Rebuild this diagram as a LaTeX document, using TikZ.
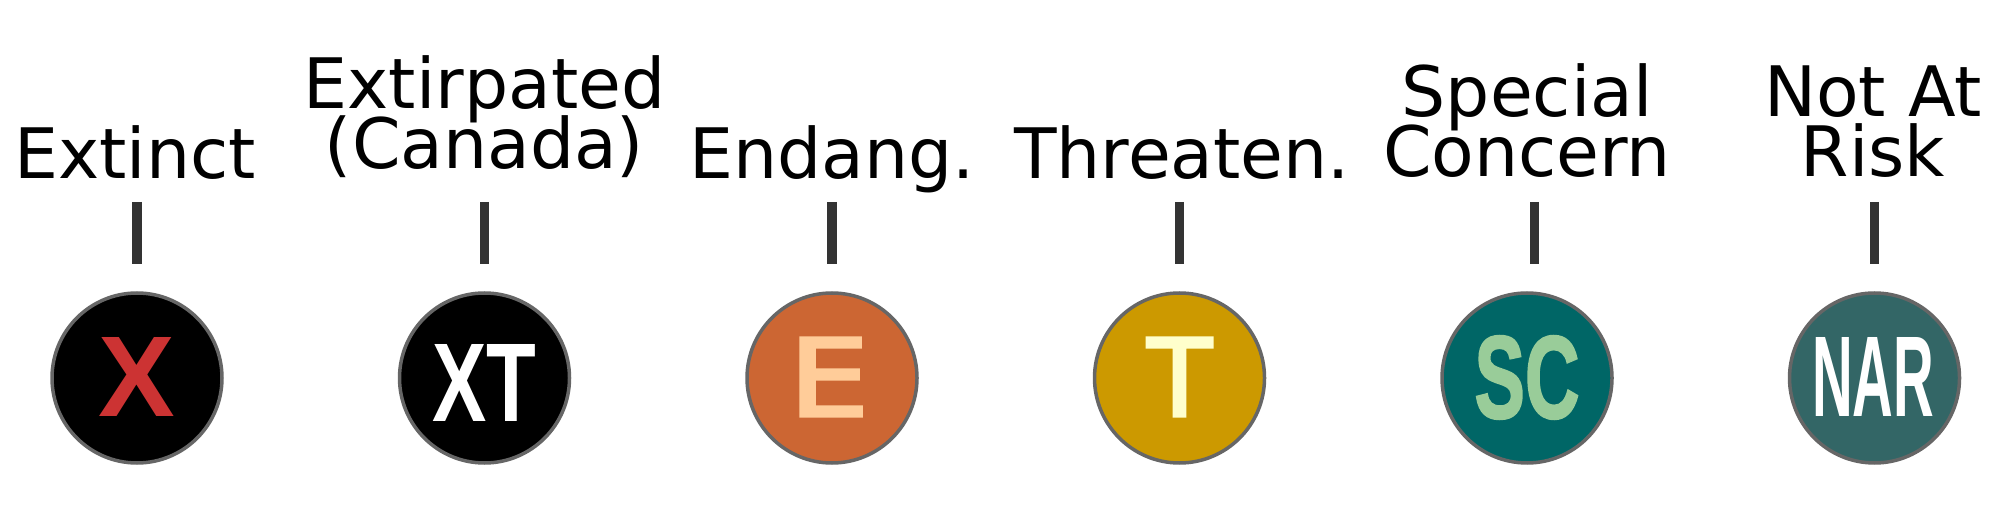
\documentclass[tikz,border=0pt]{standalone}
\usepackage{fontspec}
\usepackage{graphicx}
\setmainfont{DejaVu Sans}
\newfontfamily\libfont{Liberation Sans}
\newfontfamily\fatfont[FakeBold=2]{Liberation Sans Bold}
\newfontfamily\midfont[FakeBold=3.2]{DejaVu Sans}
\lineskiplimit=-100pt
\definecolor{ringc}{HTML}{666666}
\definecolor{tickc}{HTML}{333333}
\definecolor{cX}{HTML}{CC3333}
\definecolor{cE}{HTML}{CC6633}
\definecolor{cEt}{HTML}{FFCC99}
\definecolor{cT}{HTML}{CC9900}
\definecolor{cTt}{HTML}{FFFFCC}
\definecolor{cS}{HTML}{006666}
\definecolor{cSt}{HTML}{99CC99}
\definecolor{cN}{HTML}{336666}
\tikzset{
  x=0.5pt,y=-0.5pt,
  badge/.style={circle,draw=ringc,line width=1.75pt,minimum size=85pt,inner sep=0pt},
  glyph/.style={inner sep=0pt,outer sep=0pt},
  statuslabel/.style={inner sep=0pt,outer sep=0pt,anchor=base,align=center,text=black,
     font=\fontsize{34.8}{30}\selectfont},
  ticklink/.style={draw=tickc,line width=4.7pt}
}
\newcommand{\sq}[3]{\resizebox{#1pt}{#2pt}{#3}}
\begin{document}
\begin{tikzpicture}
\useasboundingbox (0,0) rectangle (2000,517);
\node[badge,fill=black] (bX) at (137,378) {};
\node[badge,fill=black] (bXT) at (484.5,378) {};
\node[badge,fill=cE] (bE) at (832,378) {};
\node[badge,fill=cT] (bT) at (1179.5,378) {};
\node[badge,fill=cS] (bSC) at (1527,378) {};
\node[badge,fill=cN] (bNAR) at (1874.5,378) {};
\node[glyph,text=cX] (gX) at (137,377) {\sq{38.3}{39.5}{\libfont\bfseries X}};
\node[glyph,text=white] (gXT) at (484.5,382.5) {\sq{52}{38.5}{\libfont\bfseries XT}};
\node[glyph,text=cEt] (gE) at (829,377) {\sq{40}{39}{\midfont E}};
\node[glyph,text=cTt] (gT) at (1179.5,377) {\sq{32}{39}{\midfont T}};
\node[glyph,text=cSt] (gSC) at (1527,377.5) {\sq{52.5}{41}{\fatfont SC}};
\node[glyph,text=white] (gNAR) at (1873,377) {\sq{61}{39.5}{\libfont\bfseries NAR}};
\node[statuslabel] (lX) at (135,179) {Extinct};
\node[statuslabel] (lXT) at (484.5,169) {Extirpated\\(Canada)};
\node[statuslabel] (lE) at (832,179) {Endang.};
\node[statuslabel] (lT) at (1182,179) {Threaten.};
\node[statuslabel] (lSC) at (1527,177) {Special\\Concern};
\node[statuslabel] (lNAR) at (1873,177) {Not At\\Risk};
\coordinate (a1) at (137,202); \coordinate (b1) at (137,264);
\coordinate (a2) at (484.5,202); \coordinate (b2) at (484.5,264);
\coordinate (a3) at (832,202); \coordinate (b3) at (832,264);
\coordinate (a4) at (1179.5,202); \coordinate (b4) at (1179.5,264);
\coordinate (a5) at (1534.5,202); \coordinate (b5) at (1534.5,264);
\coordinate (a6) at (1874.5,202); \coordinate (b6) at (1874.5,264);
\foreach \i in {1,...,6} \draw[ticklink] (a\i) -- (b\i);
\end{tikzpicture}
\end{document}
